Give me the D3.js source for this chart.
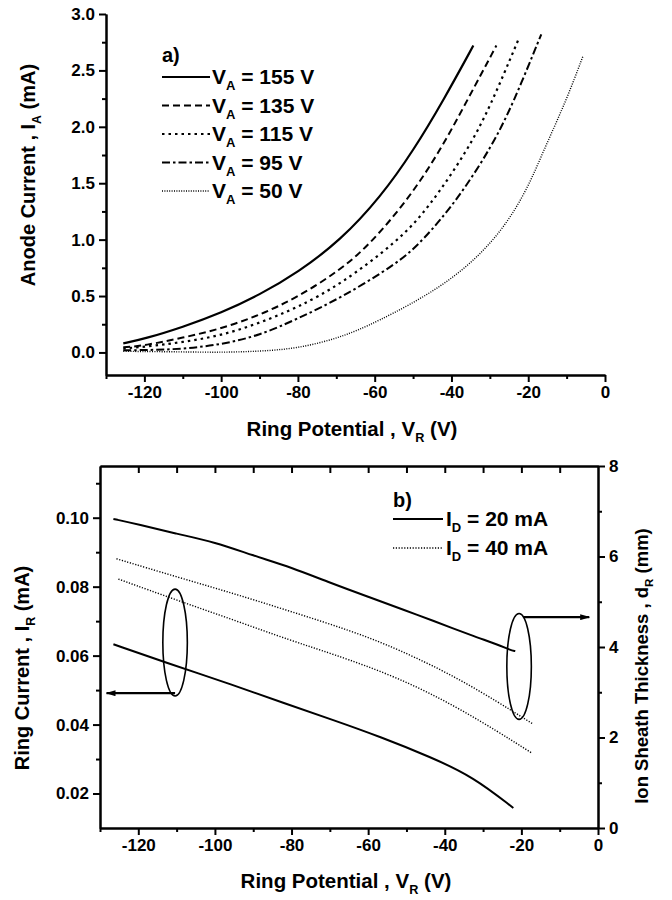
<!DOCTYPE html>
<html>
<head>
<meta charset="utf-8">
<script src="https://cdn.jsdelivr.net/npm/d3@7"></script>
<style>
  body { margin: 0; background: #fff; }
  text { font-family: "Liberation Sans", Arial, sans-serif; font-weight: bold; fill: #000; }
</style>
</head>
<body>
<div id="chart"></div>
<script>
// ---- panel a) anode current vs ring potential ----
const anodeLabels = ["155 V", "135 V", "115 V", "95 V", "50 V"];
const va155 = [[-125.5,0.08],[-120,0.12],[-110,0.225],[-100,0.35],[-90,0.51],[-80,0.71],[-69,0.99],[-58.4,1.38],[-49.9,1.79],[-42,2.24],[-34.3,2.72]];
const va135 = [[-125.5,0.045],[-120,0.06],[-110,0.13],[-100,0.21],[-90,0.33],[-80,0.49],[-69,0.73],[-61.5,0.95],[-51.4,1.35],[-42.9,1.79],[-35.8,2.24],[-28.3,2.72]];
const va115 = [[-125.5,0.035],[-120,0.05],[-110,0.09],[-100,0.15],[-90,0.26],[-80,0.40],[-69,0.60],[-53.8,0.99],[-46,1.28],[-35.8,1.79],[-29.9,2.18],[-22.6,2.77]];
const va95  = [[-125.5,0.02],[-120,0.02],[-110,0.03],[-100,0.07],[-90,0.15],[-80,0.30],[-69,0.48],[-54,0.79],[-47.5,0.99],[-38.5,1.35],[-29.4,1.83],[-23.9,2.21],[-16.6,2.82]];
const va50  = [[-125.5,0.01],[-110,0.005],[-100,0.0],[-90,0.01],[-80,0.035],[-69,0.13],[-60,0.26],[-42,0.58],[-29,0.97],[-20.8,1.40],[-16,1.79],[-10,2.24],[-5.7,2.63]];
const anodeSeries = [va155, va135, va115, va95, va50];

// ---- panel b) ring current (left axis) and sheath thickness (right axis) ----
const sheathLabels = ["20 mA", "40 mA"];
const thick20 = [[-126.5,6.83],[-120,6.71],[-110,6.50],[-100,6.32],[-90,6.02],[-80,5.76],[-70,5.42],[-60,5.11],[-50,4.80],[-43.7,4.60],[-32.5,4.24],[-26,4.05],[-22.9,3.93],[-21.6,3.91]];
const thick40 = [[-125.7,5.95],[-110,5.55],[-95,5.18],[-80,4.78],[-64.5,4.36],[-52.3,3.96],[-35.1,3.26],[-17.2,2.31]];
const ring40  = [[-125.2,0.0822],[-110,0.0761],[-95,0.0703],[-80,0.0643],[-69.8,0.0607],[-52.3,0.0538],[-35.1,0.0442],[-17.2,0.0317]];
const ring20  = [[-126.5,0.0633],[-113.2,0.0581],[-95,0.0514],[-82,0.0462],[-69,0.0413],[-56.7,0.0364],[-43.7,0.0306],[-32.5,0.0248],[-22.1,0.0158]];

// ovals + arrows that point each pair of curves to its axis
const leftOval = [-110.4, 0.0793, 0.0483, 3.2];   // cx, top, bottom, half width (V) on left axis
const rightOval = [-20.6, 4.74, 2.40, 3.2];       // on right axis
const leftArrow = [[-110.4, 0.0491], [-128.3, 0.0491]];
const rightArrow = [[-19.6, 4.66], [-2.3, 4.66]];

const svg = d3.select("#chart").append("svg")
    .attr("width", 672)
    .attr("height", 900);

svg.append("defs").append("marker")
    .attr("id", "head")
    .attr("viewBox", "0 0 10 6")
    .attr("refX", 9).attr("refY", 3)
    .attr("markerWidth", 10).attr("markerHeight", 6)
    .attr("markerUnits", "userSpaceOnUse")
    .attr("orient", "auto")
  .append("path")
    .attr("d", "M0,0L10,3L0,6Z")
    .attr("fill", "#000");

function drawAxis(orient, scale, pos, majors, minors, fmt, fontSize, inward) {
    const make = {bottom: d3.axisBottom, left: d3.axisLeft, right: d3.axisRight, top: d3.axisTop}[orient];
    const horiz = orient === "bottom" || orient === "top";
    const g = svg.append("g")
        .attr("transform", horiz ? `translate(0,${pos})` : `translate(${pos},0)`);
    g.append("g").call(make(scale).tickValues(minors).tickFormat("")
        .tickSize(inward ? -7 : 4).tickSizeOuter(0));
    g.append("g").call(make(scale).tickValues(majors).tickFormat(fmt)
        .tickSize(inward ? -7 : 7).tickSizeOuter(0).tickPadding(4));
    g.selectAll("path, line").attr("stroke", "#000").attr("stroke-width", 2);
    g.selectAll("text").style("font-size", fontSize + "px");
    return g;
}

// text with one subscript: [before, sub, after]
function subText(x, y, parts, size, rotate) {
    const t = svg.append("text")
        .attr("transform", `translate(${x},${y})` + (rotate ? " rotate(-90)" : ""))
        .attr("text-anchor", "middle")
        .style("font-size", size + "px");
    t.append("tspan").text(parts[0]);
    t.append("tspan").attr("dy", size * 0.28).style("font-size", (size * 0.62) + "px").text(parts[1]);
    t.append("tspan").attr("dy", -size * 0.28).text(parts[2]);
    return t;
}

// ================= panel a =================
const xA = d3.scaleLinear().domain([-130, 0]).range([106, 605]);
const yA = d3.scaleLinear().domain([-0.2, 3.0]).range([375, 14]);

drawAxis("bottom", xA, 375, d3.range(-120, 1, 20), d3.range(-130, 1, 20), d => d, 17);
drawAxis("left", yA, 106, d3.range(0, 3.01, 0.5), d3.range(0.25, 3, 0.5), d3.format(".1f"), 17);

const styleA = [
    {dash: null, w: 2.2},
    {dash: "7,4", w: 2},
    {dash: "2.5,4", w: 2.2},
    {dash: "8,3,2.5,3", w: 2},
    {dash: "1,1.4", w: 1.4}
];

const lineA = d3.line()
    .x(d => xA(d[0]))
    .y(d => yA(d[1]))
    .curve(d3.curveBasis);

svg.selectAll(".curve-a")
    .data(anodeSeries)
    .join("path")
    .attr("class", "curve-a")
    .attr("fill", "none")
    .attr("stroke", "#000")
    .attr("stroke-width", (d, i) => styleA[i].w)
    .attr("stroke-dasharray", (d, i) => styleA[i].dash)
    .attr("d", lineA);

svg.append("text").attr("x", 162).attr("y", 62).style("font-size", "20px").text("a)");
anodeLabels.forEach((s, i) => {
    const y = 77 + i * 28.5;
    svg.append("line")
        .attr("x1", 162).attr("x2", 210).attr("y1", y).attr("y2", y)
        .attr("stroke", "#000")
        .attr("stroke-width", styleA[i].w)
        .attr("stroke-dasharray", styleA[i].dash);
    const t = svg.append("text").attr("x", 212).attr("y", y + 7).style("font-size", "21px");
    t.append("tspan").text("V");
    t.append("tspan").attr("dy", 6).style("font-size", "13px").text("A");
    t.append("tspan").attr("dy", -6).text(" = " + s);
});

subText(352, 436, ["Ring Potential , V", "R", " (V)"], 20.5, false);
subText(35, 175, ["Anode Current , I", "A", " (mA)"], 20, true);

// ================= panel b =================
const xB = d3.scaleLinear().domain([-130, 0]).range([100, 598]);
const yL = d3.scaleLinear().domain([0.01, 0.115]).range([828, 466]);
const yR = d3.scaleLinear().domain([0, 8]).range([828, 466]);

drawAxis("top", xB, 466, [], d3.range(-120, 0, 10), "", 17, true);
drawAxis("bottom", xB, 828, d3.range(-120, 1, 20), d3.range(-130, 1, 20), d => d, 17);
drawAxis("left", yL, 100, d3.range(0.02, 0.101, 0.02), d3.range(0.03, 0.115, 0.02), d3.format(".2f"), 17);
drawAxis("right", yR, 598, d3.range(0, 8.1, 2), d3.range(1, 8, 2), d => d, 17);

const lineL = d3.line().x(d => xB(d[0])).y(d => yL(d[1])).curve(d3.curveBasis);
const lineR = d3.line().x(d => xB(d[0])).y(d => yR(d[1])).curve(d3.curveBasis);

const curvesB = [
    {data: thick20, line: lineR, dash: null, w: 2},
    {data: thick40, line: lineR, dash: "1.2,1.6", w: 1.4},
    {data: ring40, line: lineL, dash: "1.2,1.6", w: 1.4},
    {data: ring20, line: lineL, dash: null, w: 2}
];

svg.selectAll(".curve-b")
    .data(curvesB)
    .join("path")
    .attr("class", "curve-b")
    .attr("fill", "none")
    .attr("stroke", "#000")
    .attr("stroke-width", d => d.w)
    .attr("stroke-dasharray", d => d.dash)
    .attr("d", d => d.line(d.data));

// ovals
[[leftOval, yL], [rightOval, yR]].forEach(([o, ys]) => {
    svg.append("ellipse")
        .attr("cx", xB(o[0]))
        .attr("cy", (ys(o[1]) + ys(o[2])) / 2)
        .attr("rx", xB(o[0] + o[3]) - xB(o[0]))
        .attr("ry", (ys(o[2]) - ys(o[1])) / 2)
        .attr("fill", "none")
        .attr("stroke", "#000")
        .attr("stroke-width", 1.6);
});

svg.append("line")
    .attr("x1", xB(leftArrow[0][0])).attr("y1", yL(leftArrow[0][1]))
    .attr("x2", xB(leftArrow[1][0])).attr("y2", yL(leftArrow[1][1]))
    .attr("stroke", "#000").attr("stroke-width", 2.2)
    .attr("marker-end", "url(#head)");
svg.append("line")
    .attr("x1", xB(rightArrow[0][0])).attr("y1", yR(rightArrow[0][1]))
    .attr("x2", xB(rightArrow[1][0])).attr("y2", yR(rightArrow[1][1]))
    .attr("stroke", "#000").attr("stroke-width", 2.2)
    .attr("marker-end", "url(#head)");

// legend b
svg.append("text").attr("x", 393).attr("y", 507).style("font-size", "20px").text("b)");
sheathLabels.forEach((s, i) => {
    const y = 519 + i * 29;
    svg.append("line")
        .attr("x1", 393).attr("x2", 443).attr("y1", y).attr("y2", y)
        .attr("stroke", "#000")
        .attr("stroke-width", curvesB[i].w)
        .attr("stroke-dasharray", curvesB[i].dash);
    const t = svg.append("text").attr("x", 446).attr("y", y + 7).style("font-size", "21px");
    t.append("tspan").text("I");
    t.append("tspan").attr("dy", 6).style("font-size", "13px").text("D");
    t.append("tspan").attr("dy", -6).text(" = " + s);
});

subText(346, 888, ["Ring Potential , V", "R", " (V)"], 20.5, false);
subText(29, 668, ["Ring Current , I", "R", " (mA)"], 20, true);
subText(648, 666, ["Ion Sheath Thickness , d", "R", " (mm)"], 18.5, true);
</script>
</body>
</html>
